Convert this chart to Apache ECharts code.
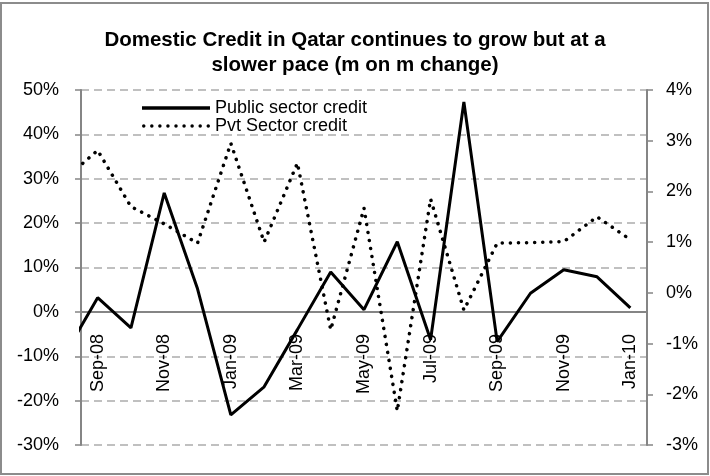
<!DOCTYPE html>
<html>
<head>
<meta charset="utf-8">
<script src="https://cdn.jsdelivr.net/npm/echarts@6/dist/echarts.min.js"></script>
<style>
  html, body { margin: 0; padding: 0; background: #fff; }
  #chart { width: 710px; height: 476px; }
</style>
</head>
<body>
<div id="chart"></div>
<script>
  // months shown on the axis (Sep-08 .. Jan-10)
  var months = ['Sep-08', 'Oct-08', 'Nov-08', 'Dec-08', 'Jan-09', 'Feb-09', 'Mar-09', 'Apr-09', 'May-09',
    'Jun-09', 'Jul-09', 'Aug-09', 'Sep-09', 'Oct-09', 'Nov-09', 'Dec-09', 'Jan-10'];
  // Aug-08 sits just left of the plot, only its segment edge shows
  var firstMonth = 'Aug-08';

  // m on m change, %
  var publicCredit = [-9.8, 3.2, -3.6, 26.8, 5.2, -23.2, -16.9, -4.0, 9.0, 0.5, 15.8, -6.3, 47.3, -6.7, 4.2, 9.5, 7.9, 0.9];
  var pvtCredit = [2.24, 2.81, 1.7, 1.36, 0.98, 2.95, 1.0, 2.56, -0.73, 1.67, -2.33, 1.85, -0.34, 0.98, 0.99, 1.01, 1.5, 1.05];

  var leftTicks = { min: -30, max: 50, step: 10 };
  var rightTicks = { min: -3, max: 4, step: 1 };

  function toPoints(vals) {
    // index -1 = Aug-08, 0 = Sep-08 ...
    return vals.map(function(v, i) { return [i - 1, v]; });
  }

  // legend swatch for the dotted series: a row of small dots
  function dotsPath(n, w, r) {
    var step = (w - 2 * r) / (n - 1), d = '';
    for (var i = 0; i < n; i++) {
      var cx = r + i * step;
      d += 'M' + (cx - r) + ',' + r + ' a' + r + ',' + r + ' 0 1,0 ' + (2 * r) + ',0 a' + r + ',' + r + ' 0 1,0 ' + (-2 * r) + ',0 ';
    }
    return 'path://' + d;
  }

  var axisGray = '#858585';
  var font = 'Liberation Sans, Arial, sans-serif';
  var fs = 18;

  var chart = echarts.init(document.getElementById('chart'));
  var option = {
    backgroundColor: '#fff',
    animation: false,
    textStyle: { fontFamily: font },
    title: {
      text: 'Domestic Credit in Qatar continues to grow but at a\nslower pace (m on m change)',
      left: 'center',
      top: 23,
      textStyle: { fontSize: 20.5, fontWeight: 'bold', color: '#000', lineHeight: 25, fontFamily: font }
    },
    graphic: [{
      type: 'rect',
      shape: { x: 1, y: 3, width: 707, height: 471 },
      style: { fill: 'none', stroke: '#8c8c8c', lineWidth: 2 },
      silent: true
    }],
    legend: {
      orient: 'vertical',
      left: 137,
      top: 94,
      itemWidth: 68,
      itemHeight: 3.5,
      itemGap: 0,
      textStyle: { fontSize: fs, color: '#000', fontFamily: font },
      data: [
        { name: 'Public sector credit', icon: 'rect' },
        { name: 'Pvt Sector credit', icon: dotsPath(9, 68, 1.75) }
      ]
    },
    grid: [
      { left: 81, right: 63, top: 90, bottom: 31, outerBoundsMode: 'none' },
      // second grid ends at the 0% line, it only carries the month axis
      { left: 81, right: 63, top: 90, bottom: 164, outerBoundsMode: 'none' }
    ],
    xAxis: [{
      type: 'value',
      gridIndex: 0,
      min: -0.5,
      max: months.length - 0.5,
      show: false
    }, {
      type: 'category',
      gridIndex: 1,
      data: months,
      boundaryGap: true,
      axisLine: { lineStyle: { color: axisGray, width: 2 } },
      axisTick: { interval: 1, length: 5, lineStyle: { color: axisGray, width: 1.5 } },
      axisLabel: { interval: 1, rotate: 90, margin: 22, fontSize: fs, color: '#000', fontFamily: font },
      splitLine: { show: false }
    }],
    yAxis: [{
      type: 'value',
      gridIndex: 0,
      min: leftTicks.min,
      max: leftTicks.max,
      interval: leftTicks.step,
      axisLine: { show: true, onZero: false, lineStyle: { color: axisGray, width: 2 } },
      axisTick: { show: true, length: 6, lineStyle: { color: axisGray, width: 1.5 } },
      axisLabel: { formatter: '{value}%', fontSize: fs, color: '#000', margin: 22, fontFamily: font },
      splitLine: { show: true, lineStyle: { color: '#c0c0c0', type: [8, 5], width: 2 } }
    }, {
      type: 'value',
      gridIndex: 0,
      position: 'right',
      min: rightTicks.min,
      max: rightTicks.max,
      interval: rightTicks.step,
      axisLine: { show: true, onZero: false, lineStyle: { color: axisGray, width: 2 } },
      axisTick: { show: true, length: 6, lineStyle: { color: axisGray, width: 1.5 } },
      axisLabel: { formatter: '{value}%', fontSize: fs, color: '#000', margin: 19, fontFamily: font },
      splitLine: { show: false }
    }, {
      type: 'value',
      gridIndex: 1,
      show: false
    }],
    series: [{
      name: 'Public sector credit',
      type: 'line',
      xAxisIndex: 0,
      yAxisIndex: 0,
      data: toPoints(publicCredit),
      symbol: 'none',
      clip: true,
      z: 3,
      lineStyle: { color: '#000', width: 3 },
      itemStyle: { color: '#000' }
    }, {
      name: 'Pvt Sector credit',
      type: 'line',
      xAxisIndex: 0,
      yAxisIndex: 1,
      data: toPoints(pvtCredit),
      symbol: 'none',
      clip: true,
      z: 3,
      lineStyle: { color: '#000', width: 3.5, type: [0.1, 8], cap: 'round' },
      itemStyle: { color: '#000' }
    }]
  };
  chart.setOption(option);
</script>
</body>
</html>
